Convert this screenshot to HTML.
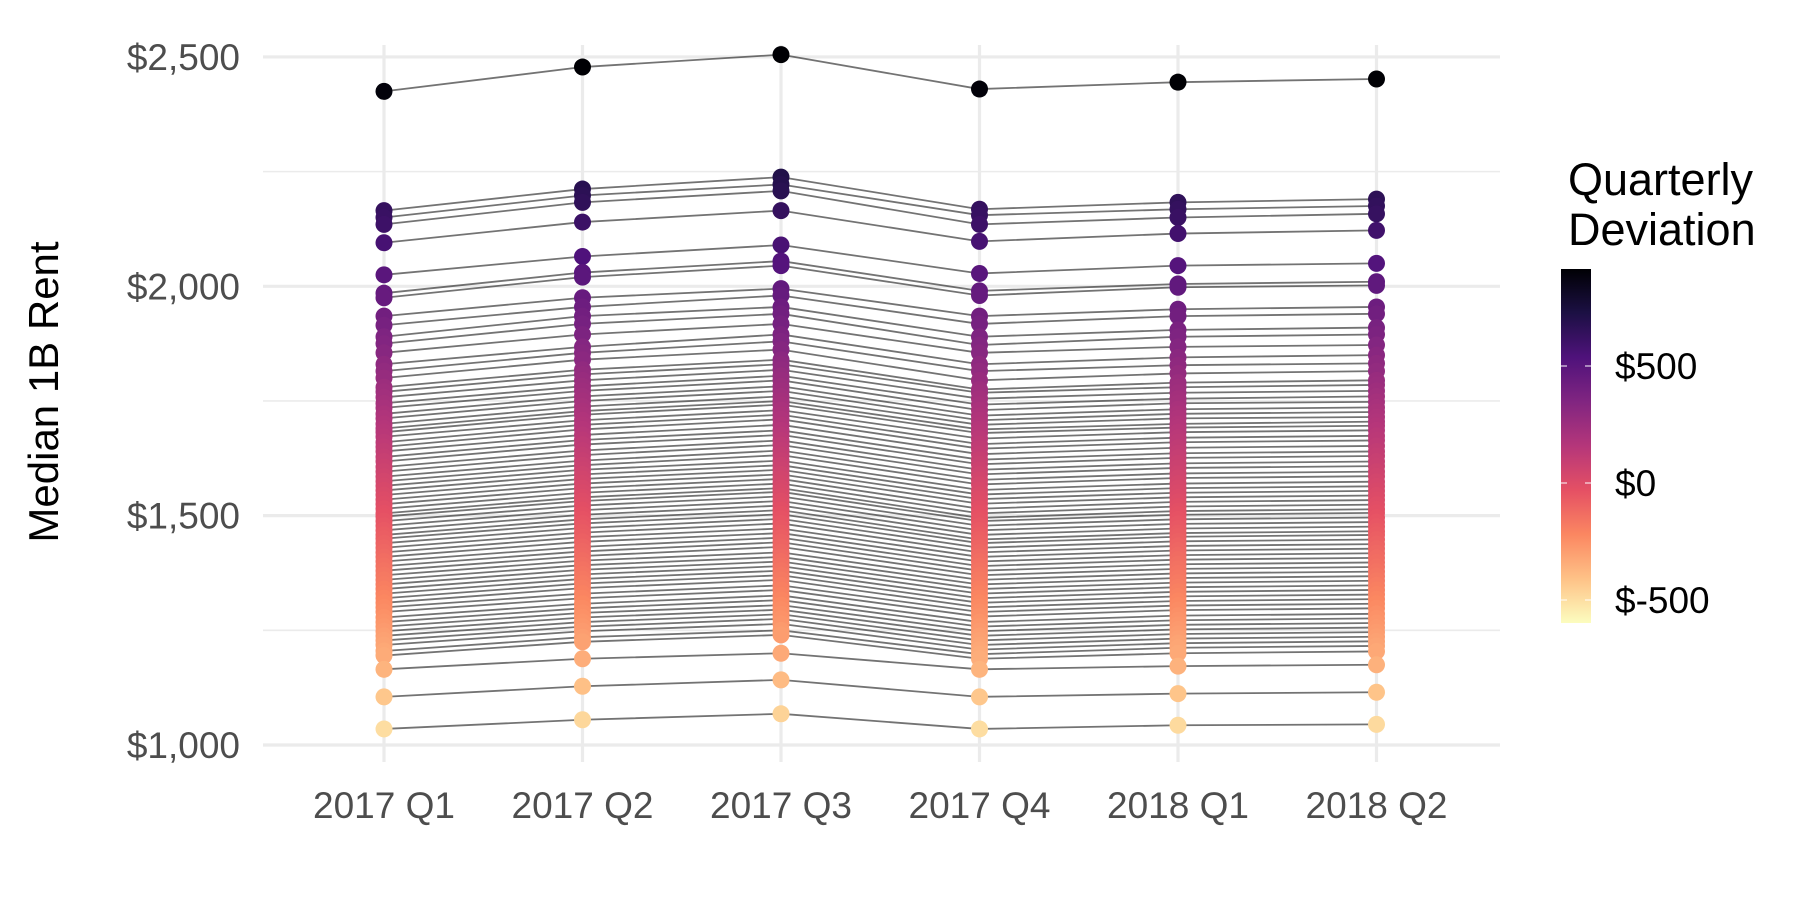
<!DOCTYPE html>
<html><head><meta charset="utf-8"><style>
html,body{margin:0;padding:0;background:#fff;}
svg{display:block;font-family:"Liberation Sans",Arial,sans-serif;}
</style></head><body>
<svg id="chart" width="1800" height="900" viewBox="0 0 1800 900">
<defs>
<linearGradient id="magma" x1="0" y1="1" x2="0" y2="0">
<stop offset="0" stop-color="#fcfdbf"/><stop offset="0.125" stop-color="#fec287"/><stop offset="0.25" stop-color="#fb8761"/><stop offset="0.375" stop-color="#e55064"/><stop offset="0.5" stop-color="#b5367a"/><stop offset="0.625" stop-color="#812581"/><stop offset="0.75" stop-color="#4f127b"/><stop offset="0.875" stop-color="#1c1044"/><stop offset="1" stop-color="#000004"/>
</linearGradient>
</defs>
<g id="grid"></g>
<g id="lines"></g>
<g id="points"></g>
<g id="axes"></g>
<text x="0" y="0" transform="translate(58,392) rotate(-90)" text-anchor="middle" font-size="42" fill="#000">Median 1B Rent</text>
<g>
<text x="1568" y="195" font-size="45" fill="#000">Quarterly</text>
<text x="1568" y="245" font-size="45" fill="#000">Deviation</text>
<rect x="1561" y="269" width="30" height="354" fill="url(#magma)"/>
<g id="legendticks"></g>
</g>
</svg>
<script>
const quarters = ["2017 Q1","2017 Q2","2017 Q3","2017 Q4","2018 Q1","2018 Q2"];
const yTicks = [1000,1250,1500,1750,2000,2250,2500];
const yTickLabels = ["$1,000","","$1,500","","$2,000","","$2,500"];
const legendTicks = [500,0,-500];
const legendTickLabels = ["$500","$0","$-500"];
const devCenter = 1530;
const devMin = -598, devMax = 915;
const series = [
[2425,2478,2505,2430,2445,2452],
[2165,2212,2238,2168,2183,2190],
[2150,2198,2222,2155,2168,2175],
[2135,2183,2208,2135,2150,2158],
[2095,2140,2165,2098,2115,2122],
[2025,2065,2090,2028,2045,2050],
[1985,2030,2055,1990,2005,2010],
[1975,2020,2045,1980,1998,2002],
[1935,1975,1995,1935,1950,1955],
[1915,1955,1980,1918,1935,1940],
[1890,1935,1955,1890,1905,1910],
[1875,1918,1940,1872,1890,1895],
[1855,1895,1918,1855,1868,1872],
[1830,1868,1895,1830,1845,1850],
[1815,1855,1880,1815,1828,1832],
[1800,1840,1862,1795,1810,1815],
[1780,1818,1840,1775,1790,1795],
[1770,1808,1830,1768,1780,1785],
[1758,1795,1818,1755,1768,1772],
[1745,1782,1805,1742,1755,1760],
[1735,1772,1795,1730,1745,1748],
[1722,1760,1782,1718,1732,1736],
[1712,1750,1772,1708,1722,1726],
[1700,1738,1760,1698,1712,1715],
[1690,1728,1750,1688,1700,1705],
[1682,1720,1742,1680,1692,1696],
[1672,1708,1730,1668,1682,1686],
[1660,1698,1720,1656,1670,1674],
[1650,1688,1710,1646,1660,1664],
[1640,1676,1698,1634,1648,1652],
[1628,1665,1686,1622,1636,1640],
[1618,1655,1676,1612,1626,1630],
[1606,1642,1664,1600,1614,1618],
[1596,1632,1654,1590,1604,1608],
[1585,1620,1642,1578,1592,1596],
[1575,1610,1632,1568,1582,1586],
[1565,1600,1620,1556,1570,1574],
[1555,1590,1610,1546,1560,1564],
[1545,1580,1600,1536,1550,1554],
[1535,1570,1590,1526,1540,1544],
[1525,1560,1580,1515,1530,1534],
[1515,1550,1570,1505,1520,1524],
[1505,1540,1560,1495,1510,1514],
[1498,1532,1552,1488,1502,1506],
[1488,1522,1542,1478,1492,1496],
[1478,1512,1532,1468,1482,1486],
[1468,1502,1522,1458,1472,1476],
[1458,1492,1512,1448,1462,1466],
[1450,1483,1503,1440,1454,1458],
[1440,1473,1493,1430,1444,1448],
[1430,1463,1483,1420,1434,1438],
[1420,1453,1472,1410,1424,1428],
[1410,1443,1462,1400,1414,1418],
[1400,1432,1452,1390,1404,1408],
[1390,1422,1442,1380,1394,1398],
[1380,1412,1432,1370,1384,1388],
[1370,1402,1420,1360,1374,1378],
[1360,1392,1410,1350,1364,1368],
[1350,1382,1400,1340,1354,1358],
[1340,1372,1390,1330,1344,1348],
[1330,1362,1380,1320,1334,1338],
[1320,1352,1370,1310,1324,1328],
[1310,1342,1360,1300,1314,1318],
[1300,1330,1348,1290,1304,1308],
[1290,1320,1338,1280,1294,1298],
[1278,1308,1326,1268,1282,1286],
[1268,1298,1316,1258,1272,1276],
[1258,1288,1305,1248,1262,1266],
[1248,1278,1295,1238,1252,1256],
[1238,1268,1285,1228,1242,1246],
[1228,1258,1275,1218,1232,1236],
[1218,1248,1264,1208,1222,1226],
[1205,1235,1250,1198,1212,1216],
[1195,1225,1240,1188,1200,1204],
[1165,1188,1200,1165,1172,1175],
[1105,1128,1142,1105,1112,1115],
[1035,1055,1068,1035,1043,1045]
];
const svgNS="http://www.w3.org/2000/svg";
const X0=384, XSTEP=198.5;
function xScale(i){return X0+i*XSTEP;}
function yScale(v){return 745-(v-1000)*0.4587;}
function legendY(d){return 483-d*0.234;}
const stops=[[0,"#000004"],[0.125,"#1c1044"],[0.25,"#4f127b"],[0.375,"#812581"],[0.5,"#b5367a"],[0.625,"#e55064"],[0.75,"#fb8761"],[0.875,"#fec287"],[1,"#fcfdbf"]];
function hex(h){return [parseInt(h.substr(1,2),16),parseInt(h.substr(3,2),16),parseInt(h.substr(5,2),16)];}
function magma(t){t=Math.max(0,Math.min(1,t));for(let i=1;i<stops.length;i++){if(t<=stops[i][0]){const a=stops[i-1],b=stops[i];const f=(t-a[0])/(b[0]-a[0]);const ca=hex(a[1]),cb=hex(b[1]);return "rgb("+ca.map((c,k)=>Math.round(c+(cb[k]-c)*f)).join(",")+")";}}return stops[stops.length-1][1];}
function colorFor(v){const d=v-devCenter;return magma((devMax-d)/(devMax-devMin));}
function mk(tag,attrs,parent){const e=document.createElementNS(svgNS,tag);for(const k in attrs)e.setAttribute(k,attrs[k]);parent.appendChild(e);return e;}
const grid=document.getElementById('grid'),axes=document.getElementById('axes');
yTicks.forEach((t,i)=>{
  const major=yTickLabels[i]!=="";
  const l=mk('line',{x1:263,x2:1500,y1:yScale(t),y2:yScale(t),stroke:"#ebebeb","stroke-width":major?3.2:1.6},grid);
  
  
  if(major){
    const tx=mk('text',{x:240,y:yScale(t)+13,"text-anchor":"end","font-size":37,fill:"#4d4d4d"},axes);
    tx.textContent=yTickLabels[i];
    
    
  }
});
quarters.forEach((q,i)=>{
  const l=mk('line',{x1:xScale(i),x2:xScale(i),y1:45,y2:762,stroke:"#ebebeb","stroke-width":3.2},grid);
  
  
  const tx=mk('text',{x:xScale(i),y:818,"text-anchor":"middle","font-size":37,fill:"#4d4d4d"},axes);
  tx.textContent=q;
  
  
});
const lines=document.getElementById('lines'),points=document.getElementById('points');
series.forEach(s=>{
  const p=mk('polyline',{points:s.map((v,i)=>xScale(i)+","+yScale(v)).join(" "),fill:"none",stroke:"rgba(0,0,0,0.55)","stroke-width":1.8},lines);
  
  
});
quarters.forEach((q,i)=>{
  series.forEach(s=>{
    const c=mk('circle',{cx:xScale(i),cy:yScale(s[i]),r:8.5,fill:colorFor(s[i])},points);
    
    
  });
});
const lt=document.getElementById('legendticks');
legendTicks.forEach((d,i)=>{
  const y=legendY(d);
  const a=mk('line',{x1:1561,x2:1567,y1:y,y2:y,stroke:"#fff","stroke-width":1},lt);
  
  
  const b=mk('line',{x1:1585,x2:1591,y1:y,y2:y,stroke:"#fff","stroke-width":1},lt);
  
  
  const tx=mk('text',{x:1615,y:y+13,"font-size":37,fill:"#000"},lt);
  tx.textContent=legendTickLabels[i];
  
  
});
</script>
</body></html>
